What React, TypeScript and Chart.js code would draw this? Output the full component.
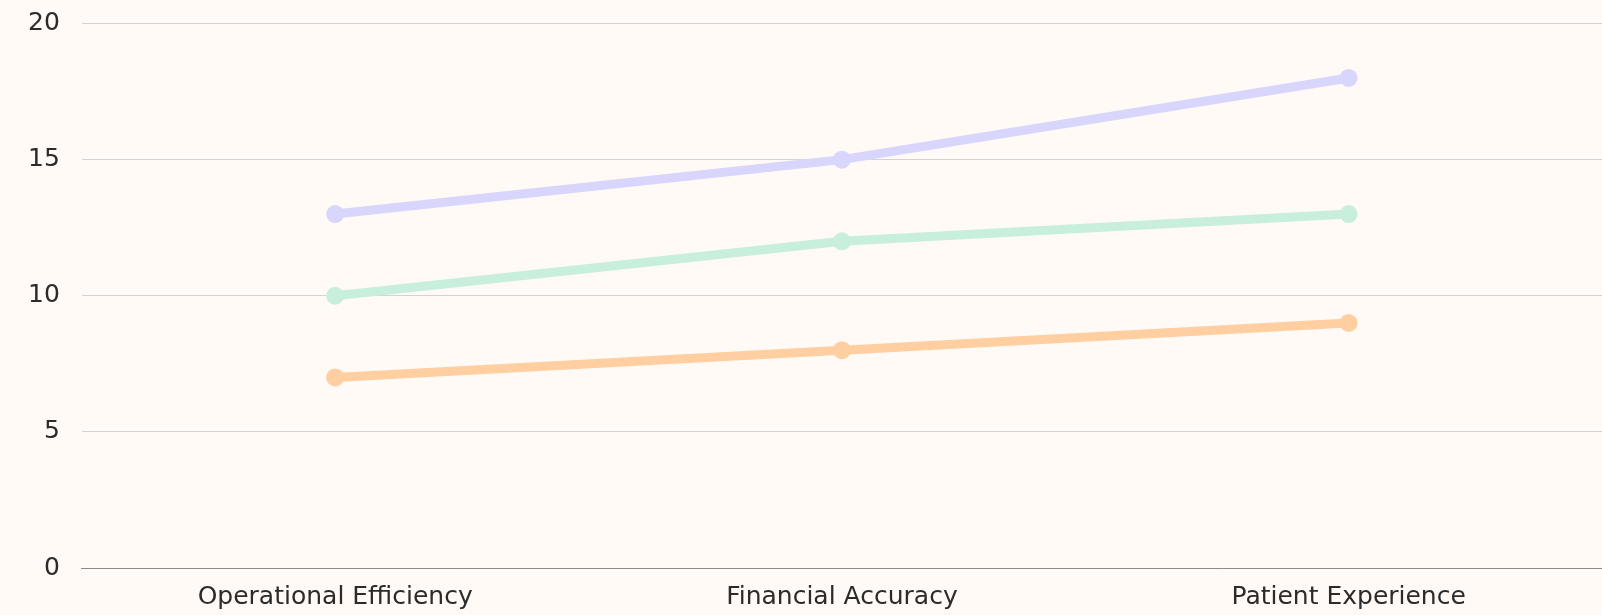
import React, { useEffect, useRef } from "react";
import { Chart, registerables } from "chart.js";

Chart.register(...registerables);

const categories = ["Operational Efficiency", "Financial Accuracy", "Patient Experience"];
const seriesPurple = [13, 15, 18];
const seriesGreen = [10, 12, 13];
const seriesOrange = [7, 8, 9];
const yTicks = [0, 5, 10, 15, 20];

const bgPlugin = {
  id: "bg",
  beforeDraw(chart: any) {
    const { ctx, width, height } = chart;
    ctx.save();
    ctx.fillStyle = "#fffaf5";
    ctx.fillRect(0, 0, width, height);
    ctx.restore();
  },
};

export default function App() {
  const ref = useRef<HTMLCanvasElement>(null);
  useEffect(() => {
    document.body.style.margin = "0";
    document.body.style.background = "#fffaf5";
    const mk = (data: number[], color: string) => ({
      data,
      borderColor: color,
      backgroundColor: color,
      pointBackgroundColor: color,
      pointBorderColor: color,
      borderWidth: 9,
      pointRadius: 9,
      pointBorderWidth: 0,
      tension: 0,
      fill: false,
      clip: false,
    });
    const chart = new Chart(ref.current!, {
      type: "line",
      data: {
        labels: categories,
        datasets: [
          mk(seriesPurple, "#d8d6fc"),
          mk(seriesGreen, "#c8eedc"),
          mk(seriesOrange, "#ffcfa1"),
        ],
      },
      options: {
        animation: false,
        responsive: false,
        layout: { autoPadding: false, padding: { top: 0, right: 0, bottom: -11, left: 6 } },
        plugins: { legend: { display: false }, tooltip: { enabled: false } },
        scales: {
          x: {
            offset: true,
            grid: { display: false, drawTicks: false },
            border: { display: true, color: "#8a8a8a", width: 1 },
            ticks: {
              color: "#2b2b2b",
              font: { family: "DejaVu Sans", size: 25 },
              padding: 14,
            },
          },
          y: {
            min: 0,
            max: 20,
            afterBuildTicks: (axis: any) => {
              axis.ticks = yTicks.map((v) => ({ value: v }));
            },
            afterFit: (axis: any) => {
              axis.paddingTop = 23.5;
              axis.paddingBottom = 14;
            },
            grid: { color: "#d3d3d3", drawTicks: false },
            border: { display: false },
            ticks: {
              color: "#2b2b2b",
              font: { family: "DejaVu Sans", size: 25 },
              padding: 22,
            },
          },
        },
      },
      plugins: [bgPlugin],
    });
    return () => chart.destroy();
  }, []);
  return <canvas ref={ref} width={1602} height={615} style={{ display: "block" }} />;
}
